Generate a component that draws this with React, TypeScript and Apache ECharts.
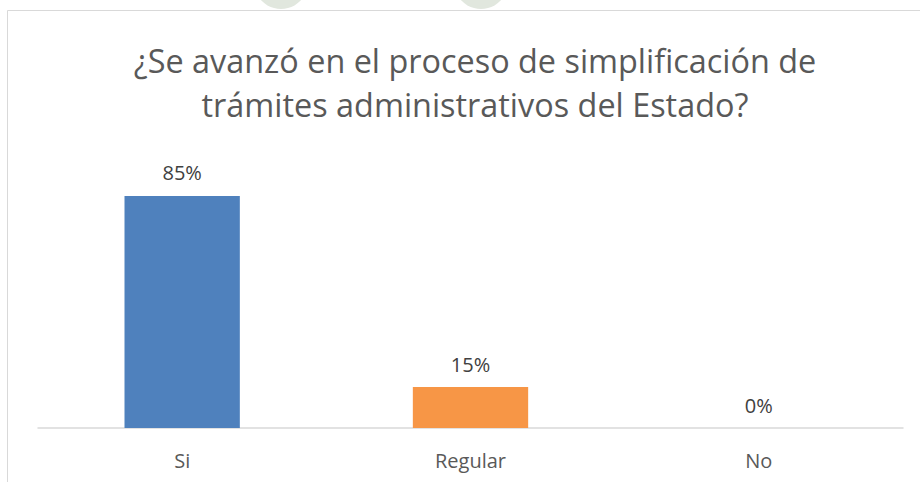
import React, { useEffect, useRef } from "react";
import * as echarts from "echarts";

const categories = ["Si", "Regular", "No"];
const values = [85, 15, 0];
const barColors = ["#4f81bd", "#f79646", "#9bbb59"];
const titleLines = ["¿Se avanzó en el proceso de simplificación de", "trámites administrativos del Estado?"];

export default function App() {
  const ref = useRef<HTMLDivElement>(null);
  useEffect(() => {
    document.body.style.margin = "0";
    const chart = echarts.init(ref.current!, null, { renderer: "svg" });
    chart.setOption({
      animation: false,
      backgroundColor: "#ffffff",
      title: {
        text: titleLines.join("\n"),
        left: 470,
        textAlign: "center",
        top: 33,
        textStyle: {
          fontFamily: "Open Sans",
          fontSize: 32.4,
          fontWeight: "normal",
          color: "#595959",
          lineHeight: 44,
        },
      },
      graphic: [
        { type: "circle", shape: { cx: 281, cy: -18, r: 27 }, style: { fill: "#e1e7de" }, z: 1 },
        { type: "circle", shape: { cx: 481, cy: -18, r: 27 }, style: { fill: "#e1e7de" }, z: 1 },
        { type: "rect", shape: { x: 7.5, y: 10.5, width: 1000, height: 1000 }, style: { fill: "#ffffff", stroke: "#d9d9d9", lineWidth: 1 }, z: -1, silent: true },
      ],
      grid: { left: 38, right: 17, top: 155, bottom: 54 },
      xAxis: {
        type: "category",
        data: categories,
        axisLine: { lineStyle: { color: "#d9d9d9", width: 1.5 } },
        axisTick: { show: false },
        axisLabel: { color: "#595959", fontFamily: "Open Sans", fontSize: 20, margin: 22 },
      },
      yAxis: { type: "value", min: 0, max: 100, show: false, splitLine: { show: false } },
      series: [
        {
          type: "bar",
          data: values.map((v, i) => ({ value: v, itemStyle: { color: barColors[i] } })),
          barWidth: "40%",
          label: {
            show: true,
            position: "top",
            distance: 13,
            formatter: "{c}%",
            color: "#404040",
            fontFamily: "Open Sans",
            fontSize: 20,
          },
        },
      ],
    });
    return () => chart.dispose();
  }, []);
  return <div ref={ref} style={{ width: 920, height: 482, position: "absolute", left: 0, top: 0 }} />;
}
